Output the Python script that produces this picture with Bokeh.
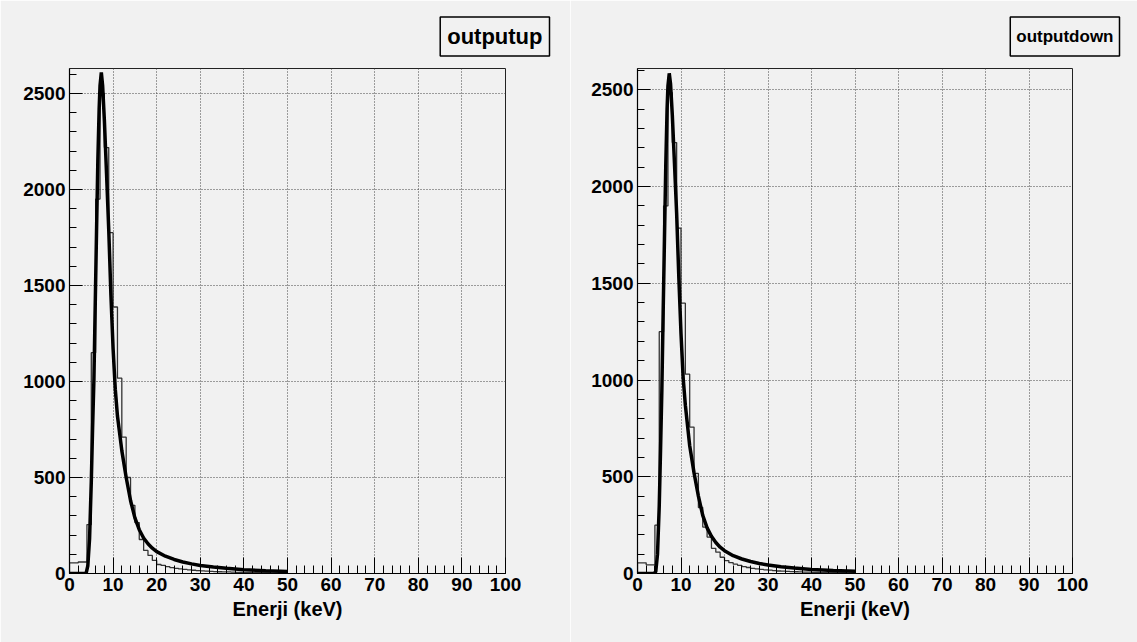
from bokeh.plotting import figure
from bokeh.layouts import row
from bokeh.models import SingleIntervalTicker, Range1d, Title
from bokeh.embed import file_html
from bokeh.resources import INLINE

# ---------------- data ----------------
bin_lefts = list(range(0, 50))          # 1 keV bins, 0..50 keV
up_counts = [55, 55, 60, 60, 255, 1150, 1950, 2500, 2218, 1775,
             1388, 1017, 710, 500, 355, 265, 177, 120, 94, 68,
             47, 42, 36, 31, 27, 24, 21, 19, 17, 15,
             14, 12, 11, 10, 9, 8, 8, 7, 6, 6,
             5, 5, 5, 4, 4, 4, 3, 3, 3, 3]
down_counts = [55, 55, 45, 45, 250, 1250, 1900, 2485, 2227, 1785,
               1397, 1030, 757, 517, 341, 240, 188, 130, 110, 84,
               67, 56, 48, 42, 36, 31, 27, 24, 21, 19,
               17, 15, 13, 12, 11, 10, 9, 8, 7, 7,
               6, 6, 5, 5, 5, 4, 4, 4, 3, 3]

fit_x = [0, 3.8, 4.2, 4.6, 5.0, 5.3, 5.6, 5.9, 6.2, 6.5, 6.8, 7.0, 7.3, 7.6,
         8.0, 8.5, 9.0, 9.5, 10.0, 10.5, 11, 12, 13, 14, 15, 16, 17, 18, 19,
         20, 22, 24, 26, 28, 30, 33, 36, 40, 45, 50]
up_fit = [0, 0, 40, 180, 480, 760, 1010, 1400, 1780, 2150, 2420, 2540, 2610, 2540,
          2360, 2080, 1790, 1450, 1170, 960, 820, 640, 500, 380, 290, 228, 185, 155, 132,
          114, 90, 73, 60, 50, 42, 34, 27, 20, 14, 10]
down_fit = [0, 0, 10, 100, 350, 640, 950, 1350, 1730, 2110, 2400, 2520, 2585, 2530,
            2370, 2120, 1860, 1530, 1240, 1010, 870, 660, 520, 400, 300, 236, 192, 160, 136,
            118, 92, 75, 62, 52, 44, 35, 28, 21, 15, 11]

panel_titles = ["outputup", "outputdown"]
x_label = "Enerji (keV)"
y_max = [2630, 2610]

BG = "#f1f1f1"
FONT = "Liberation Sans"


def make_panel(counts, fit, title, ymax, width, left, title_size, title_pad, t_off):
    p = figure(width=width, height=642, output_backend="svg", toolbar_location=None,
               tools="", x_range=Range1d(0, 100), y_range=Range1d(0, ymax),
               min_border_left=left, min_border_right=65, min_border_top=68,
               min_border_bottom=69)
    p.background_fill_color = BG
    p.border_fill_color = BG
    p.outline_line_color = "#222222"
    p.outline_line_width = 1

    # histogram outline
    xs = [0] + bin_lefts + [bin_lefts[-1] + 1]
    ys = [0] + counts + [0]
    p.step(x=xs, y=ys, mode="after", line_color="#333333", line_width=1.3)
    # fit curve
    p.line(x=fit_x, y=fit, line_color="black", line_width=3.5)

    xt = SingleIntervalTicker(interval=10, num_minor_ticks=5)
    yt = SingleIntervalTicker(interval=500, num_minor_ticks=5)
    p.xaxis.ticker = xt
    p.yaxis.ticker = yt
    p.xgrid.ticker = xt
    p.ygrid.ticker = yt
    for g in (p.xgrid, p.ygrid):
        g.grid_line_color = "#444444"
        g.grid_line_dash = "1 2"
        g.grid_line_width = 1

    for ax in (p.xaxis, p.yaxis):
        ax.axis_line_color = "black"
        ax.axis_line_width = 1.2
        ax.major_tick_line_color = "black"
        ax.minor_tick_line_color = "black"
        ax.major_tick_out = 0
        ax.minor_tick_out = 0
        ax.major_label_text_font = FONT
        ax.major_label_text_font_style = "bold"
        ax.major_label_text_font_size = "19px"
        ax.major_label_text_color = "black"
        ax.major_label_standoff = 4
    p.xaxis.major_tick_in = 16
    p.xaxis.minor_tick_in = 8
    p.yaxis.major_tick_in = 13
    p.yaxis.minor_tick_in = 7

    p.xaxis.axis_label = x_label
    p.xaxis.axis_label_text_font = FONT
    p.xaxis.axis_label_text_font_style = "bold"
    p.xaxis.axis_label_text_font_size = "20px"
    p.xaxis.axis_label_text_color = "black"
    p.xaxis.axis_label_standoff = 4

    t = Title(text=title, align="right", offset=t_off, standoff=21, vertical_align="top",
              text_font=FONT, text_font_style="bold", text_font_size=title_size,
              text_color="black", background_fill_color=BG,
              border_line_color="black", border_line_width=1.5, padding=title_pad)
    p.add_layout(t, "above")
    return p


p1 = make_panel(up_counts, up_fit, panel_titles[0], y_max[0], 570, 69, "22px",
                dict(left=7, right=7, top=7, bottom=7), -44)
p2 = make_panel(down_counts, down_fit, panel_titles[1], y_max[1], 567, 67, "17px",
                dict(left=6, right=6, top=10, bottom=10), -47)

layout = row(p1, p2)
open("out.html", "w").write(file_html(layout, INLINE))
